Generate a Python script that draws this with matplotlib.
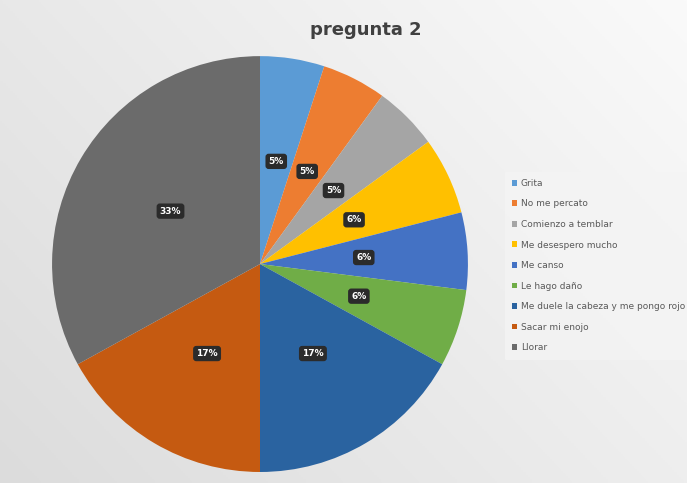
import numpy as np
import matplotlib.pyplot as plt
from matplotlib.colors import LinearSegmentedColormap

categories = ["Grita", "No me percato", "Comienzo a temblar", "Me desespero mucho",
              "Me canso", "Le hago daño", "Me duele la cabeza y me pongo rojo",
              "Sacar mi enojo", "Llorar"]
values = [5, 5, 5, 6, 6, 6, 17, 17, 33]
labels = ["5%", "5%", "5%", "6%", "6%", "6%", "17%", "17%", "33%"]
colors = ["#5B9BD5", "#ED7D31", "#A5A5A5", "#FFC000", "#4472C4", "#70AD47",
          "#2A63A0", "#C55A11", "#6B6B6B"]

fig = plt.figure(figsize=(6.87, 4.83), dpi=100)

# background gradient
bg = fig.add_axes([0, 0, 1, 1])
bg.set_axis_off()
xx = np.linspace(0, 1, 300)
yy = np.linspace(0, 1, 200)
X, Y = np.meshgrid(xx, yy)
Z = 0.6 * X + 0.4 * Y
cmap = LinearSegmentedColormap.from_list("g", ["#dcdcdc", "#fafafa"])
bg.imshow(Z, cmap=cmap, aspect="auto", extent=[0, 1, 0, 1], origin="lower")
bg.set_xlim(0, 1)
bg.set_ylim(0, 1)

ax = fig.add_axes([0.0757, 0.0228, 0.6055, 0.861])
wedges, texts = ax.pie(values, colors=colors, startangle=90, counterclock=False,
                       wedgeprops=dict(linewidth=0))
ax.set_xlim(-1, 1)
ax.set_ylim(-1, 1)
ax.set_aspect("equal")
for w, lab in zip(wedges, labels):
    ang = np.deg2rad((w.theta1 + w.theta2) / 2)
    x, y = 0.5 * np.cos(ang), 0.5 * np.sin(ang)
    ax.text(x, y, lab, ha="center", va="center", color="white", fontsize=6.5,
            fontweight="bold",
            bbox=dict(boxstyle="round,pad=0.35", fc="#2b2b2b", ec="none"))

fig.text(0.532, 0.937, "pregunta 2", ha="center", va="center", fontsize=13,
         fontweight="bold", color="#404040")

leg = fig.legend(wedges, categories, loc="upper left",
                 bbox_to_anchor=(0.728, 0.654), fontsize=6.5, frameon=True,
                 labelspacing=1.28, handlelength=0.6, handleheight=0.6,
                 handletextpad=0.4, borderpad=0.8)
leg.get_frame().set_facecolor("#f4f4f4")
leg.get_frame().set_edgecolor("none")
for t in leg.get_texts():
    t.set_color("#595959")

fig.savefig("out.png", dpi=100)
